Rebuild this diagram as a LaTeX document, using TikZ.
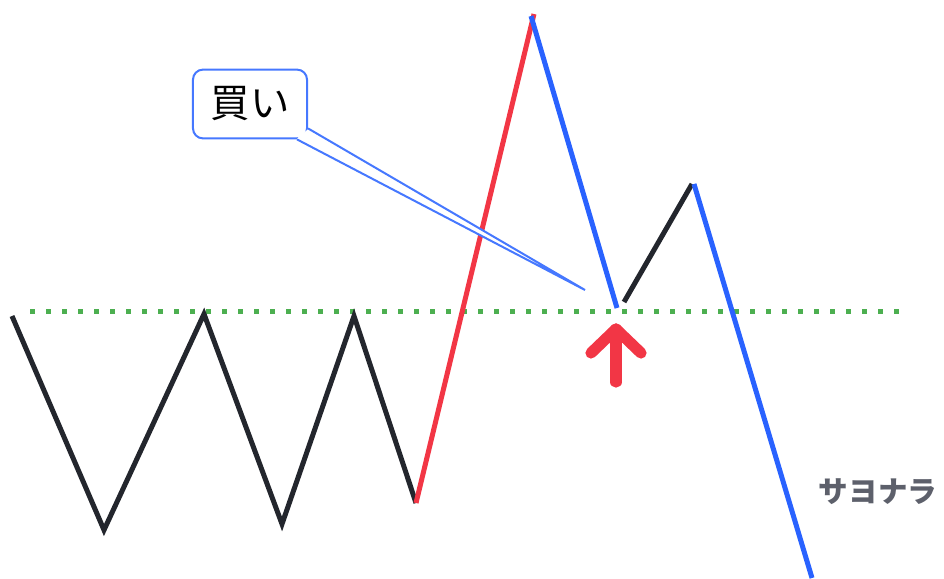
\documentclass[tikz,border=0pt]{standalone}
\usepackage{fontspec}
\newfontfamily\jpfont{Noto Sans CJK JP}
\usetikzlibrary{positioning, calc}
\definecolor{lineblack}{RGB}{35, 38, 45}
\definecolor{upred}{RGB}{242, 54, 69}
\definecolor{downblue}{RGB}{41, 98, 255}
\definecolor{levelgreen}{RGB}{76, 175, 80}
\definecolor{labelgray}{RGB}{93, 96, 107}
\definecolor{calloutblue}{RGB}{70, 120, 255}

\begin{document}
\begin{tikzpicture}[x=0.025cm, y=-0.025cm,
  leg/.style={line width=0.125cm, line join=miter},
  level/.style={levelgreen, line width=0.125cm, dash pattern=on 0.125cm off 0.275cm},
  calloutbox/.style={draw=calloutblue, line width=0.05cm, rounded corners=0.25cm, fill=white,
    minimum width=2.85cm, minimum height=1.72cm, font=\jpfont\fontsize{28}{30}\selectfont},
  buyarrow/.style={upred, line width=0.28cm, line cap=round, line join=round}]

  \useasboundingbox (0,0) rectangle (944,578);

  % 水平線（レジスタンス）
  \coordinate (lvlA) at (30,311);
  \coordinate (lvlB) at (905,311);
  \draw[level] (lvlA) -- (lvlB);

  % 値動きの頂点
  \coordinate (p0) at (12,316);
  \coordinate (p1) at (104,530);
  \coordinate (p2) at (204,314);
  \coordinate (p3) at (282,524);
  \coordinate (p4) at (354,316);
  \coordinate (p5) at (416,503);
  \coordinate (p6) at (534,14);
  \coordinate (p6b) at (531,16);
  \coordinate (p7) at (617,308);
  \coordinate (p8) at (624,302);
  \coordinate (p9) at (692,184);
  \coordinate (p9b) at (694,184);
  \coordinate (p10) at (812,578);

  % レンジ内の上下
  \draw[leg, lineblack] (p0) -- (p1) -- (p2) -- (p3) -- (p4) -- (p5);
  % ブレイク
  \draw[leg, upred] (p5) -- (p6);
  % 押し目
  \draw[leg, downblue] (p6b) -- (p7);
  \draw[leg, lineblack] (p8) -- (p9);
  % 失速
  \draw[leg, downblue] (p9b) -- (p10);

  % 吹き出し
  \node[calloutbox] (buy) at (250,104) {買い};
  \coordinate (tip) at (585,290);
  \fill[white] ($(buy.south east)+(-11,-1)$) -- (tip) -- ($(buy.south east)+(1,-11)$) -- cycle;
  \draw[calloutblue, line width=0.05cm]
    ($(buy.south east)+(-11,0)$) -- (tip) -- ($(buy.south east)+(0,-11)$);

  % 買いの矢印
  \coordinate (arrowtop) at (616,329);
  \coordinate (arrowbase) at (616,382);
  \draw[buyarrow] (arrowbase) -- (arrowtop);
  \draw[buyarrow] (591,353) -- (arrowtop) -- (641,353);

  % ラベル
  \node[font=\jpfont\bfseries\fontsize{21}{24}\selectfont, text=labelgray] (bye) at (878,492) {サヨナラ};

\end{tikzpicture}
\end{document}
